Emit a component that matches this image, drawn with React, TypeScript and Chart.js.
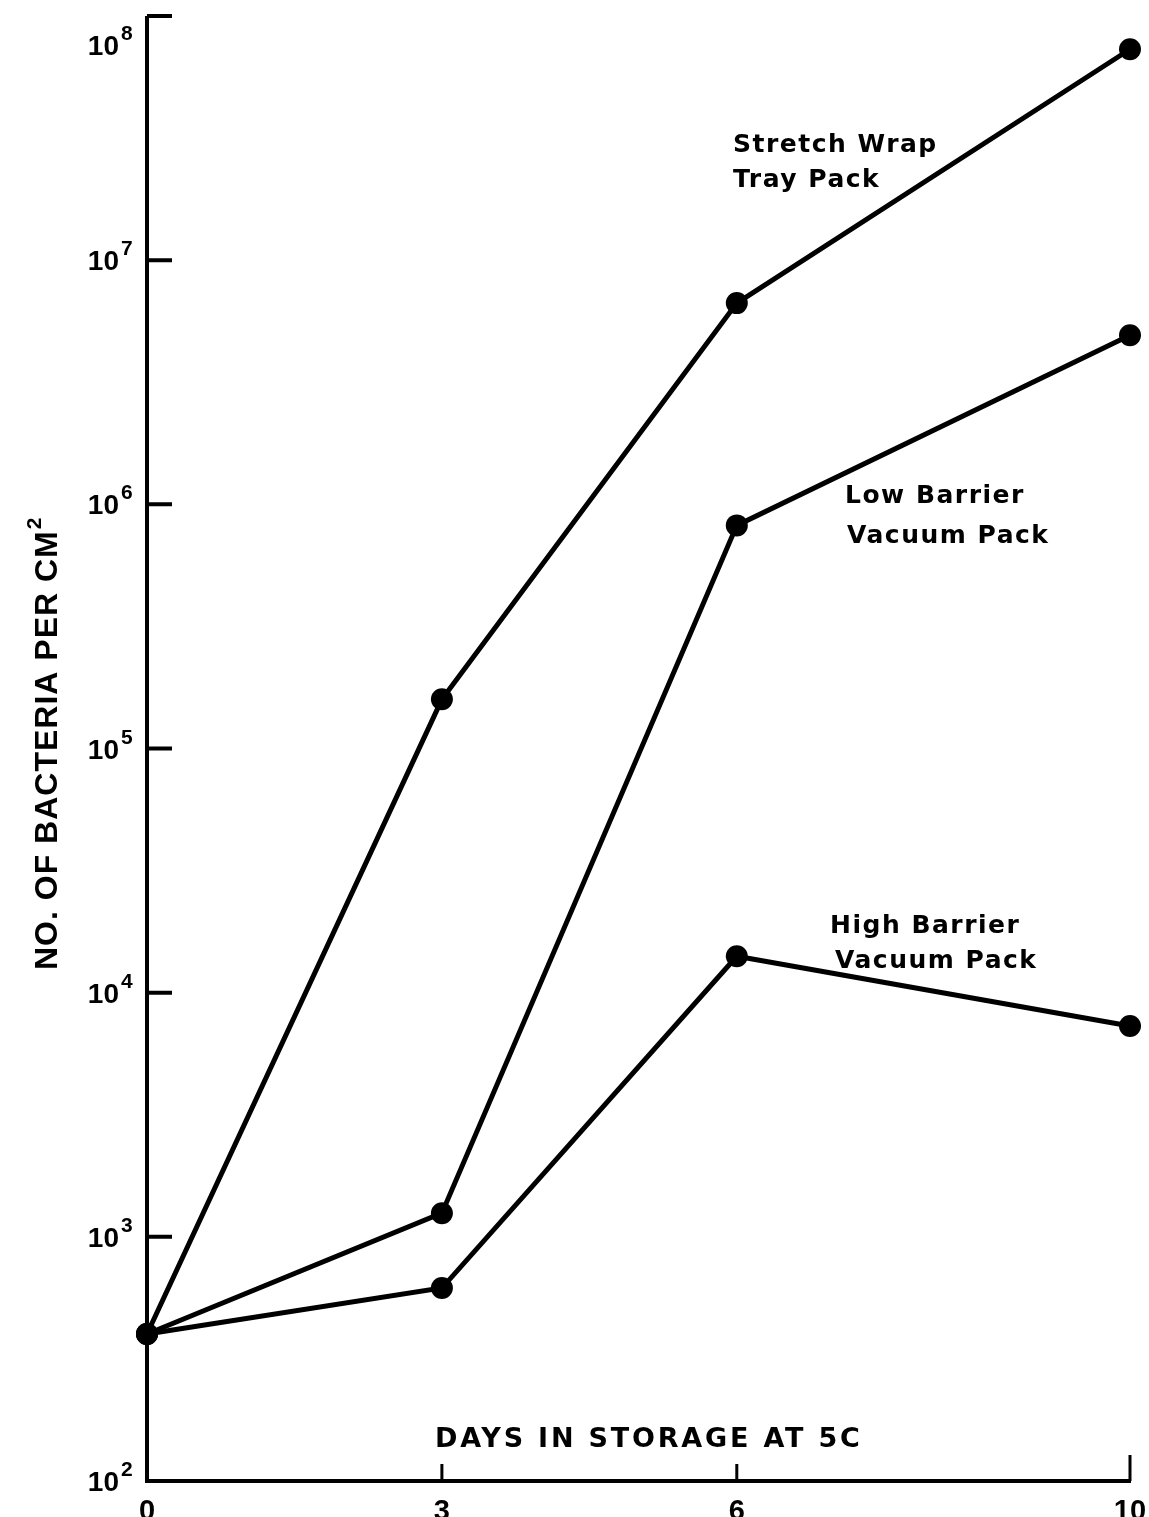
import React, { useEffect, useRef } from "react";
import { Chart, registerables } from "chart.js";

Chart.register(...registerables);

const days = [0, 3, 6, 10];
const stretchWrap = [400, 1.59e5, 6.67e6, 7.31e7];
const lowBarrier = [400, 1250, 8.2e5, 4.93e6];
const highBarrier = [400, 617, 1.41e4, 7.3e3];
const xTickValues = [0, 3, 6, 10];
const yExponents = [2, 3, 4, 5, 6, 7, 8];
const stretchLabel = ["Stretch Wrap", "Tray Pack"];
const lowLabel = ["Low Barrier", "Vacuum Pack"];
const highLabel = ["High Barrier", "Vacuum Pack"];
const xTitle = "DAYS IN STORAGE AT 5C";
const yTitle = "NO. OF BACTERIA PER CM";
const yTitleSup = "2";

const WORD_FONT = '"DejaVu Sans", sans-serif';
const NUM_FONT = '"Liberation Sans", Arial, sans-serif';

const decorPlugin = {
  id: "decor",
  afterDraw(chart: any) {
    const ctx = chart.ctx as CanvasRenderingContext2D;
    const xs = chart.scales.x;
    const ys = chart.scales.y;
    const ca = chart.chartArea;
    ctx.save();
    ctx.strokeStyle = "#000";
    ctx.fillStyle = "#000";
    ctx.lineWidth = 4;
    ctx.lineCap = "butt";
    // axes
    ctx.beginPath();
    ctx.moveTo(ca.left, ca.top);
    ctx.lineTo(ca.left, ca.bottom);
    ctx.lineTo(xs.getPixelForValue(10) + 1, ca.bottom);
    ctx.stroke();
    // y ticks (inward)
    ctx.beginPath();
    yExponents.forEach((e) => {
      if (e === 2) return;
      const y = ys.getPixelForValue(Math.pow(10, e));
      ctx.moveTo(ca.left, y);
      ctx.lineTo(ca.left + 25, y);
    });
    ctx.stroke();
    // x ticks (inward)
    ctx.lineWidth = 3;
    ctx.beginPath();
    xTickValues.forEach((d) => {
      if (d === 0) return;
      const x = xs.getPixelForValue(d);
      ctx.moveTo(x, ca.bottom);
      ctx.lineTo(x, ca.bottom - (d === 10 ? 26 : 17));
    });
    ctx.stroke();

    // y tick labels
    yExponents.forEach((e) => {
      const y = ys.getPixelForValue(Math.pow(10, e));
      const cy = Math.max(y, ca.top + 29);
      ctx.font = `bold 28px ${NUM_FONT}`;
      ctx.textAlign = "right";
      ctx.textBaseline = "alphabetic";
      ctx.fillText("10", ca.left - 28, cy + 10);
      ctx.font = `bold 21px ${NUM_FONT}`;
      ctx.textAlign = "left";
      ctx.fillText(String(e), ca.left - 26, cy - 5);
    });

    // x tick labels
    ctx.font = `bold 29px ${NUM_FONT}`;
    ctx.textAlign = "center";
    ctx.textBaseline = "alphabetic";
    xTickValues.forEach((d) => {
      const x = xs.getPixelForValue(d);
      ctx.fillText(String(d), x, 1520);
    });

    // x title
    ctx.font = `bold 27px ${WORD_FONT}`;
    (ctx as any).letterSpacing = "2.8px";
    ctx.textAlign = "left";
    ctx.fillText(xTitle, 435, 1447);

    // series labels
    ctx.font = `bold 25px ${WORD_FONT}`;
    (ctx as any).letterSpacing = "1.5px";
    ctx.fillText(stretchLabel[0], 733, 152);
    ctx.fillText(stretchLabel[1], 733, 187);
    ctx.fillText(lowLabel[0], 845, 503);
    ctx.fillText(lowLabel[1], 847, 543);
    ctx.fillText(highLabel[0], 830, 933);
    ctx.fillText(highLabel[1], 835, 968);

    // y title (rotated)
    ctx.translate(57, 970);
    ctx.rotate(-Math.PI / 2);
    ctx.font = `bold 32px ${NUM_FONT}`;
    (ctx as any).letterSpacing = "1px";
    ctx.textAlign = "left";
    ctx.fillText(yTitle, 0, 0);
    const w = ctx.measureText(yTitle).width;
    ctx.font = `bold 21px ${NUM_FONT}`;
    (ctx as any).letterSpacing = "0px";
    ctx.fillText(yTitleSup, w + 1, -16);
    ctx.restore();
  },
};

export default function App() {
  const ref = useRef<HTMLCanvasElement | null>(null);
  useEffect(() => {
    if (!ref.current) return;
    const mk = (label: string, vals: number[]) => ({
      label,
      data: days.map((d, i) => ({ x: d, y: vals[i] })),
      borderColor: "#000",
      backgroundColor: "#000",
      borderWidth: 5,
      pointRadius: 11,
      pointBorderWidth: 0,
      pointBackgroundColor: "#000",
      tension: 0,
      clip: false as any,
    });
    const chart = new Chart(ref.current, {
      type: "line",
      data: {
        datasets: [
          mk("Stretch Wrap Tray Pack", stretchWrap),
          mk("Low Barrier Vacuum Pack", lowBarrier),
          mk("High Barrier Vacuum Pack", highBarrier),
        ],
      },
      options: {
        responsive: false,
        animation: false,
        layout: { autoPadding: false, padding: { left: 147, top: 16, right: 19, bottom: 36 } },
        plugins: { legend: { display: false }, tooltip: { enabled: false } },
        scales: {
          x: {
            type: "linear",
            min: 0,
            max: 10,
            grid: { display: false, drawTicks: false },
            border: { display: false },
            ticks: { display: false },
          },
          y: {
            type: "logarithmic",
            min: 100,
            max: 1e8,
            grid: { display: false, drawTicks: false },
            border: { display: false },
            ticks: { display: false },
          },
        },
      },
      plugins: [decorPlugin],
    });
    return () => chart.destroy();
  }, []);
  return (
    <div style={{ position: "absolute", left: 0, top: 0, width: 1149, height: 1517, background: "#fff" }}>
      <canvas ref={ref} width={1149} height={1517} style={{ width: 1149, height: 1517, display: "block" }} />
    </div>
  );
}
